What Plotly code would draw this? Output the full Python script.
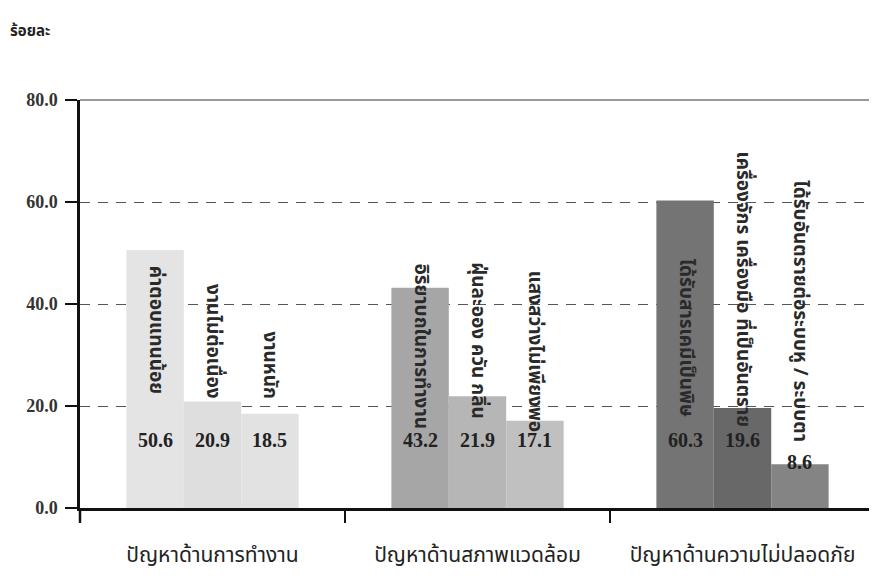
import plotly.graph_objects as go

categories = ["ปัญหาด้านการทำงาน", "ปัญหาด้านสภาพแวดล้อม", "ปัญหาด้านความไม่ปลอดภัย"]
sub_labels = [
    ["ค่าตอบแทนน้อย", "งานไม่ต่อเนื่อง", "งานหนัก"],
    ["อิริยาบถในการทำงาน", "ฝุ่นละออง ควัน กลิ่น", "แสงสว่างไม่เพียงพอ"],
    ["ได้รับสารเคมีเป็นพิษ", "เครื่องจักร เครื่องมือ ที่เป็นอันตราย", "ได้รับอันตรายต่อระบบหู / ระบบตา"],
]
values = [
    [50.6, 20.9, 18.5],
    [43.2, 21.9, 17.1],
    [60.3, 19.6, 8.6],
]
y_ticks = [0, 20, 40, 60, 80]
y_title = "ร้อยละ"

# styling (not data)
bar_colors = [
    ["#e4e4e4", "#dedede", "#e2e2e2"],
    ["#a6a6a6", "#b6b6b6", "#c0c0c0"],
    ["#747474", "#686868", "#848484"],
]
label_bottom = [[22, 21, 21], [15, 17, 14.5], [17.5, 15.5, 12.5]]
bargap = 0.35
bw = (1 - bargap) / 3
thai_font = "Noto Sans Thai, Noto Sans, Loma, sans-serif"
num_font = "Liberation Serif, Times New Roman, serif"

fig = go.Figure()
for j in range(3):
    fig.add_trace(go.Bar(
        x=categories,
        y=[values[i][j] for i in range(3)],
        marker=dict(color=[bar_colors[i][j] for i in range(3)], line=dict(width=0)),
        showlegend=False,
        hoverinfo="skip",
    ))

annotations = []
for i in range(3):
    for j in range(3):
        xc = i + (j - 1) * bw
        v = values[i][j]
        annotations.append(dict(
            x=xc, y=min(v + 0.4, 13.3), xref="x", yref="y",
            text=f"<b>{v:.1f}</b>", showarrow=False,
            font=dict(family=num_font, size=20, color="#222"),
            xanchor="center", yanchor="middle",
        ))
        annotations.append(dict(
            x=xc, y=label_bottom[i][j], xref="x", yref="y",
            text=f"<b>{sub_labels[i][j]}</b>", showarrow=False, textangle=90,
            font=dict(family=thai_font, size=19, color="#2a2a2a"),
            xanchor="center", yanchor="bottom",
        ))

annotations.append(dict(
    x=-0.09, y=1.167, xref="paper", yref="paper", xanchor="left", yanchor="middle",
    text=f"<b>{y_title}</b>", showarrow=False,
    font=dict(family=thai_font, size=15, color="#222"),
))

fig.add_shape(type="line", xref="paper", yref="paper", x0=0, x1=1, y0=1, y1=1,
              line=dict(color="#777", width=1.5))
fig.add_shape(type="line", xref="paper", yref="paper", x0=0, x1=0, y0=-0.035, y1=0,
              line=dict(color="#111", width=2.5))

fig.update_layout(
    width=869, height=569,
    margin=dict(l=72, r=2, t=92, b=69),
    paper_bgcolor="white", plot_bgcolor="white",
    bargap=bargap, bargroupgap=0, barmode="group",
    annotations=annotations,
    xaxis=dict(
        type="category", tickson="boundaries", ticks="outside", ticklen=12,
        tickwidth=1.5, tickcolor="#111",
        showline=True, linecolor="#111", linewidth=2.5, showgrid=False,
        tickfont=dict(family=thai_font, size=21, color="#222"),
        ticklabelstandoff=26,
        range=[-0.5, 2.5],
    ),
    yaxis=dict(
        range=[0, 80], tickvals=y_ticks, tickformat=".1f",
        ticks="outside", ticklen=12, tickwidth=2, tickcolor="#111",
        showline=True, linecolor="#111", linewidth=2.5,
        showgrid=True, gridcolor="#555", griddash="10px,8px", gridwidth=1,
        zeroline=False,
        tickfont=dict(family=num_font, size=18, color="#333", weight="bold"),
        ticklabelstandoff=4,
    ),
)

fig.write_html("out.html")
